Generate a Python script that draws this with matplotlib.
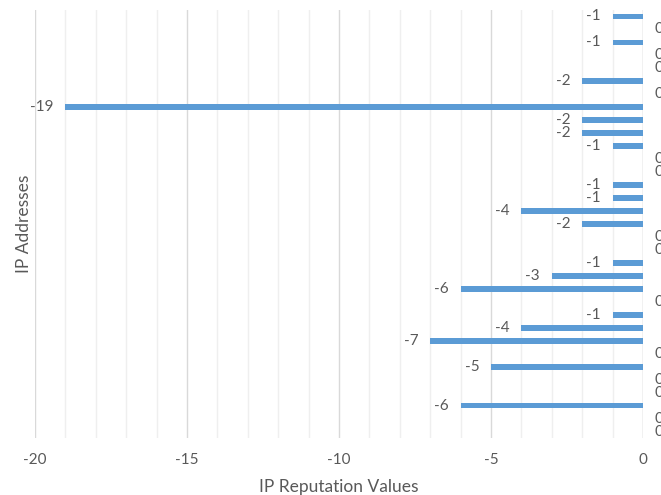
import numpy as np
import matplotlib.pyplot as plt
from matplotlib.ticker import MultipleLocator

# reputation score per IP address, listed top to bottom
ip_index = list(range(1, 34))
reputation = [-1, 0, -1, 0, 0, -2, 0, -19, -2, -2, -1, 0, 0, -1, -1, -4, -2,
              0, 0, -1, -3, -6, 0, -1, -4, -7, 0, -5, 0, 0, -6, 0, 0]

bar_color = "#5b9bd5"
text_color = "#595959"
plt.rcParams["font.family"] = ["Lato", "DejaVu Sans"]
plt.rcParams["axes.unicode_minus"] = False

fig = plt.figure(figsize=(6.61, 4.95), dpi=100)
ax = fig.add_axes([35 / 661, 1 - 438 / 495, 608 / 661, 428 / 495])

y = np.arange(len(reputation))
ax.barh(y, reputation, height=0.45, color=bar_color, zorder=3)
ax.set_ylim(len(reputation) - 0.5, -0.5)
ax.set_xlim(-20, 0)

# major gridlines every 5, lighter minor ones every 1
ax.xaxis.set_major_locator(MultipleLocator(5))
ax.xaxis.set_minor_locator(MultipleLocator(1))
ax.grid(axis="x", which="major", color="#d9d9d9", linewidth=1.0, zorder=1)
ax.grid(axis="x", which="minor", color="#efefef", linewidth=1.0, zorder=0)
ax.axvline(0, color="#d9d9d9", linewidth=1.0, zorder=2)

for s in ax.spines.values():
    s.set_visible(False)
ax.set_yticks([])
ax.tick_params(axis="x", which="both", length=0, pad=10.5, labelsize=11,
               labelcolor=text_color)

# value labels: left of the bar end for negatives, right of the axis for zeros
# (the zero labels run past the right edge of the figure)
for yi, v in zip(y, reputation):
    if v < 0:
        ax.annotate(str(v), (v, yi), xytext=(-8.5, 0), textcoords="offset points",
                    ha="right", va="center", fontsize=11, color=text_color,
                    annotation_clip=False)
    else:
        ax.annotate(str(v), (v, yi), xytext=(8, 0), textcoords="offset points",
                    ha="left", va="center", fontsize=11, color=text_color,
                    annotation_clip=False)

ax.set_xlabel("IP Reputation Values", fontsize=12.5, color=text_color, labelpad=9)
ax.set_ylabel("IP Addresses", fontsize=12.5, color=text_color, labelpad=2)

fig.savefig("out.png", dpi=100)
